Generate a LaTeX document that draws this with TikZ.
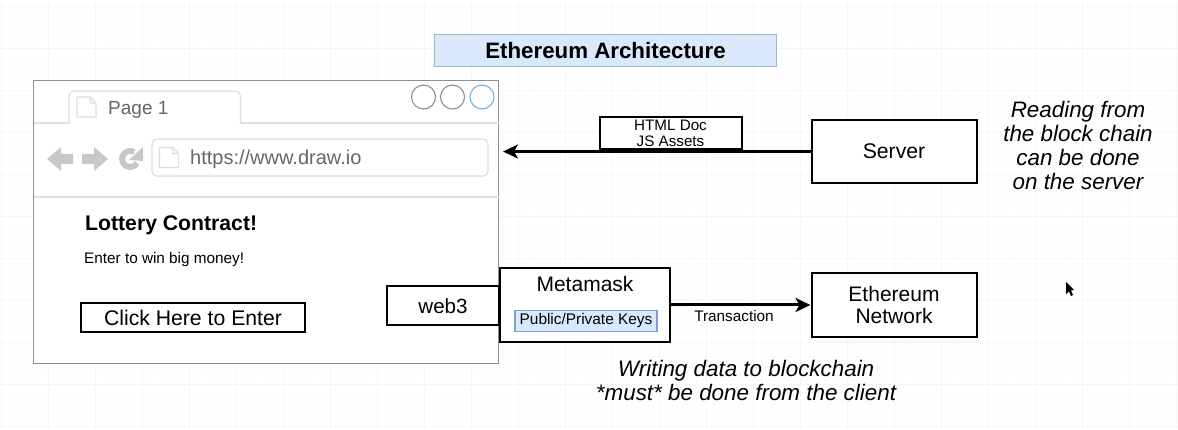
\documentclass[tikz,border=0pt]{standalone}
\usepackage{fontspec}
\setmainfont{Liberation Sans}
\usetikzlibrary{arrows.meta}
\definecolor{boxblue}{HTML}{DAE8FC}
\definecolor{edgeblue}{HTML}{9DB5D6}
\definecolor{chrome}{HTML}{8F8F8F}
\definecolor{pale}{HTML}{DEDEDE}
\definecolor{glyph}{HTML}{C8C8C8}
\definecolor{ctext}{HTML}{666666}
\definecolor{btnblue}{HTML}{6FB0E8}
\tikzset{
  blackbox/.style={draw=black,line width=2pt,fill=white,inner sep=0pt,align=center,text=black},
  sheetglyph/.style={draw=pale,line width=1.4pt,fill=white,line join=round},
  btn/.style={circle,draw=chrome,line width=1.1pt,minimum size=24pt,inner sep=0pt},
  note/.style={font=\itshape\fontsize{22.4}{23.8}\selectfont,align=center,inner sep=0pt},
  conn/.style={draw=black,line width=3pt,-{Stealth[length=15pt,width=14pt,inset=4pt]}}
}
\newcommand{\sheetat}[2]{%
  \draw[sheetglyph,shift={(#1,#2)}] (0,0) -- (13,0) -- (19,6) -- (19,20) -- (0,20) -- cycle (13,0) -- (13,6) -- (19,6);}
\begin{document}
\begin{tikzpicture}[x=1pt,y=-1pt]
\useasboundingbox (0,0) rectangle (1178,430);
\fill[white] (0,0) rectangle (1178,430);
\foreach \g in {1,10.4,...,1178} \draw[black!1.5,line width=.6pt] (\g,0) -- (\g,430);
\foreach \g in {6,14.4,...,430} \draw[black!1.5,line width=.6pt] (0,\g) -- (1178,\g);
\foreach \g in {1,48,...,1178} \draw[black!3.5,line width=.8pt] (\g,0) -- (\g,430);
\foreach \g in {6,48,...,430} \draw[black!3.5,line width=.8pt] (0,\g) -- (1178,\g);
% title
\node[draw=edgeblue,fill=boxblue,line width=1.2pt,minimum width=342pt,minimum height=32pt,inner sep=0pt,font=\bfseries\fontsize{22.3}{26}\selectfont] (title) at (605.5,50.5) {Ethereum Architecture};
% browser
\node[draw=chrome,fill=white,line width=1.5pt,minimum width=465pt,minimum height=283pt,inner sep=0pt] (browser) at (266,222) {};
\coordinate (barL) at (34,123);
\coordinate (barR) at (499,123);
\coordinate (sepL) at (34,197);
\coordinate (sepR) at (499,197);
\draw[pale,line width=1.2pt] (barL) -- (barR);
\draw[pale,line width=1.6pt] (sepL) -- (sepR);
\draw[pale,line width=1.2pt,fill=white,rounded corners=5pt] (69,124) -- (69,91) -- (240.5,91) -- (240.5,124);
\sheetat{77}{97}
\node[text=ctext,font=\fontsize{19}{22}\selectfont,anchor=west,inner sep=0pt] (page) at (108,110) {Page 1};
\node[btn] (b1) at (423.5,97) {};
\node[btn] (b2) at (452.5,97) {};
\node[btn,draw=btnblue] (b3) at (482,97) {};
% nav glyphs
\fill[glyph] (47,159) -- (61,147) -- (61,154) -- (73,154) -- (73,164) -- (61,164) -- (61,171) -- cycle;
\fill[glyph] (108,159) -- (94,147) -- (94,154) -- (82,154) -- (82,164) -- (94,164) -- (94,171) -- cycle;
\draw[glyph,line width=6pt] (137,163) arc[start angle=-30,end angle=-300,radius=8pt];
\fill[glyph] (143,147) -- (143,161) -- (129,160) -- cycle;
\node[draw=pale,line width=1.2pt,rounded corners=5pt,minimum width=336pt,minimum height=37pt,inner sep=0pt] (url) at (320,157.5) {};
\sheetat{159.5}{147.5}
\node[text=ctext,font=\fontsize{20}{23}\selectfont,anchor=west,inner sep=0pt] (urltext) at (190,159.5) {https://www.draw.io};
% page content
\node[font=\bfseries\fontsize{21.2}{25}\selectfont,anchor=west,inner sep=0pt] (lot) at (85,225.5) {Lottery Contract!};
\node[font=\fontsize{15.3}{18}\selectfont,anchor=west,inner sep=0pt] (enter) at (84,260) {Enter to win big money!};
\node[blackbox,minimum width=224pt,minimum height=29pt,font=\fontsize{21.2}{25}\selectfont] (click) at (193,317.5) {Click Here to Enter};
% web3 + metamask
\node[blackbox,minimum width=112pt,minimum height=39pt,font=\fontsize{20.6}{24}\selectfont] (web3) at (443,306) {web3};
\node[blackbox,minimum width=170pt,minimum height=74pt] (meta) at (585,305) {};
\node[font=\fontsize{21}{25}\selectfont,inner sep=0pt] (metat) at (585,283.5) {Metamask};
\node[draw=edgeblue!85!blue,fill=boxblue,line width=1.4pt,minimum width=142pt,minimum height=21pt,inner sep=0pt,font=\fontsize{15.4}{18}\selectfont] (keys) at (586,321) {Public/Private Keys};
% right side
\node[blackbox,minimum width=165pt,minimum height=63pt,font=\fontsize{21.2}{25}\selectfont] (server) at (894,151.5) {\raisebox{-1pt}{Server}};
\node[blackbox,minimum width=165pt,minimum height=63pt,font=\fontsize{21}{22.5}\selectfont] (eth) at (894,305) {Ethereum\\Network};
\node[blackbox,minimum width=142pt,minimum height=32pt,font=\fontsize{15.2}{16.5}\selectfont] (html) at (670.5,133.5) {HTML Doc\\JS Assets};
\coordinate (arrowtip) at (503,151.5);
\draw[conn] (server.west) -- (arrowtip);
\draw[conn] (meta.east) -- (eth.west);
\node[font=\fontsize{15.3}{18}\selectfont,inner sep=0pt] (tx) at (734,316) {Transaction};
\node[note] (n1) at (1078,145.5) {Reading from\\the block chain\\can be done\\on the server};
\node[note] (n2) at (746,380.5) {Writing data to blockchain\\*must* be done from the client};
% pointer
\fill[black] (1066,282) -- (1066,294) -- (1069,291.5) -- (1071,296) -- (1073,295) -- (1071,290.5) -- (1074,290) -- cycle;
\end{tikzpicture}
\end{document}
